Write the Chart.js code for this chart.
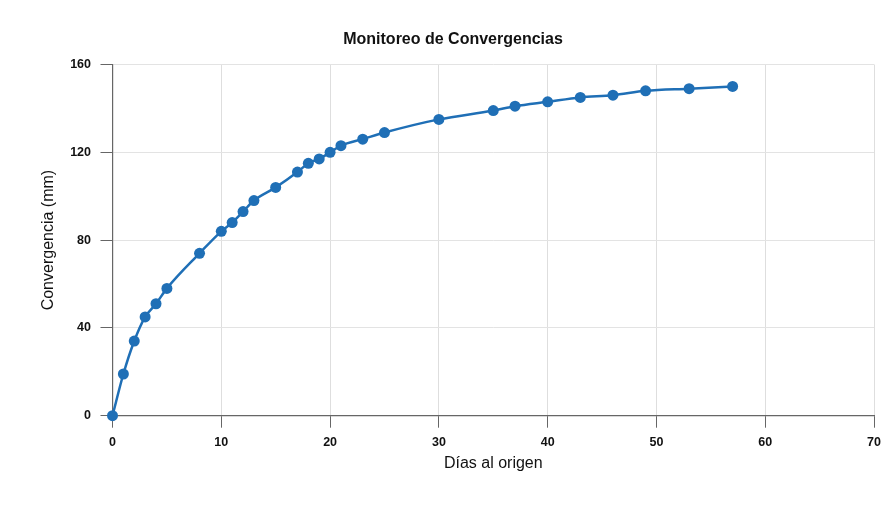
<!DOCTYPE html>
<html>
<head>
<meta charset="utf-8">
<script src="https://cdn.jsdelivr.net/npm/chart.js@4/dist/chart.umd.min.js"></script>
<style>
  html, body { margin: 0; padding: 0; background: #ffffff; }
  #wrap { width: 889px; height: 507px; position: relative; }
</style>
</head>
<body>
<div id="wrap"><canvas id="chart" width="889" height="507"></canvas></div>
<script>
// Días al origen (x) and measured convergence in mm (y)
const dias = [0, 1, 2, 3, 4, 5, 8, 10, 11, 12, 13, 15, 17, 18, 19, 20, 21, 23, 25, 30, 35, 37, 40, 43, 46, 49, 53, 57];
const convergencia = [0, 19, 34, 45, 51, 58, 74, 84, 88, 93, 98, 104, 111, 115, 117, 120, 123, 126, 129, 135, 139, 141, 143, 145, 146, 148, 149, 150];
const xTicks = [0, 10, 20, 30, 40, 50, 60, 70];
const yTicks = [0, 40, 80, 120, 160];

const points = dias.map((d, i) => ({ x: d, y: convergencia[i] }));

const FONT = "'Liberation Sans', Arial, Helvetica, sans-serif";
const BLUE = '#1f6fb6';

new Chart(document.getElementById('chart'), {
  type: 'scatter',
  data: {
    datasets: [{
      label: 'Convergencia',
      data: points,
      showLine: true,
      clip: false,
      borderColor: BLUE,
      backgroundColor: BLUE,
      borderWidth: 2.5,
      pointRadius: 5.5,
      pointHoverRadius: 5.5,
      pointBorderWidth: 0,
      cubicInterpolationMode: 'monotone'
    }]
  },
  options: {
    responsive: false,
    animation: false,
    layout: { padding: { left: 27.5, right: 10.5, top: 0, bottom: 33.4 } },
    plugins: {
      legend: { display: false },
      tooltip: { enabled: false },
      title: {
        display: true,
        text: 'Monitoreo de Convergencias',
        color: '#111',
        font: { family: FONT, size: 16, weight: 'bold' },
        padding: { top: 30, bottom: 15.3 }
      }
    },
    scales: {
      x: {
        type: 'linear',
        min: xTicks[0],
        max: xTicks[xTicks.length - 1],
        afterBuildTicks: s => { s.ticks = xTicks.map(v => ({ value: v })); },
        afterFit: s => { s.height = 57.9; },
        ticks: {
          color: '#111',
          padding: 8,
          font: { family: FONT, size: 12.5, weight: 'bold', lineHeight: 1.1 }
        },
        grid: { color: '#dedede', tickColor: '#666', tickLength: 12, lineWidth: 1 },
        border: { color: '#666', width: 1.2 },
        title: {
          display: true,
          text: 'Días al origen',
          color: '#111',
          font: { family: FONT, size: 16 },
          padding: { top: 0, bottom: 0 }
        }
      },
      y: {
        type: 'linear',
        min: yTicks[0],
        max: yTicks[yTicks.length - 1],
        afterBuildTicks: s => { s.ticks = yTicks.map(v => ({ value: v })); },
        afterFit: s => { s.width = 85; },
        ticks: {
          color: '#111',
          padding: 9.5,
          font: { family: FONT, size: 12.5, weight: 'bold' }
        },
        grid: { color: '#e3e3e3', tickColor: '#666', tickLength: 12, lineWidth: 1 },
        border: { color: '#666', width: 1.2 },
        title: {
          display: true,
          text: 'Convergencia (mm)',
          color: '#111',
          font: { family: FONT, size: 16 },
          padding: { top: 11, bottom: 0 }
        }
      }
    }
  }
});
</script>
</body>
</html>
